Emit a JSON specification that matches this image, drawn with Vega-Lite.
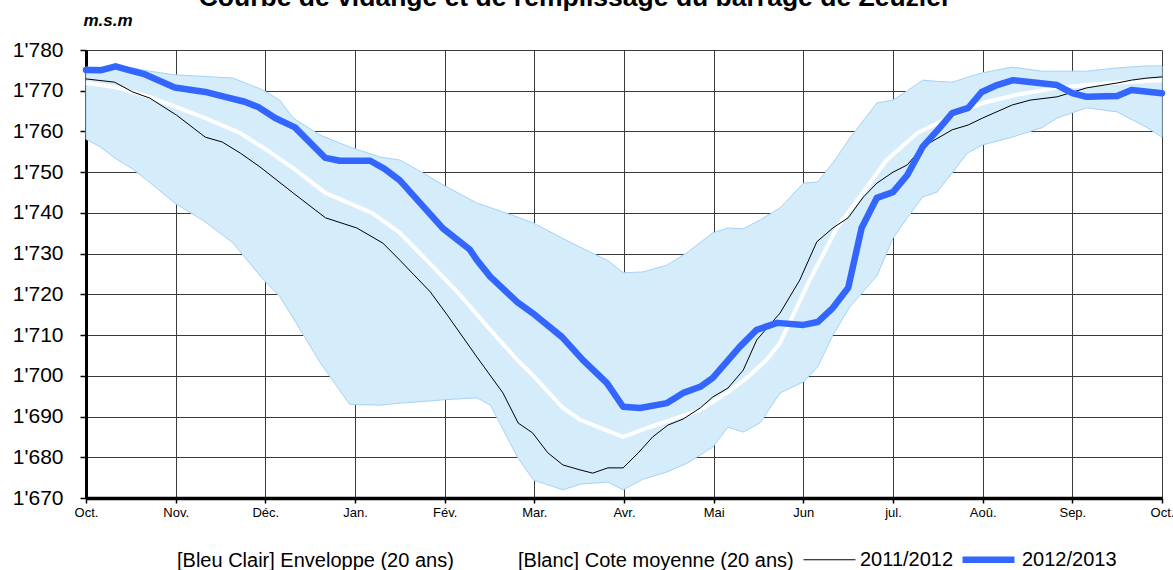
{
  "$schema": "https://vega.github.io/schema/vega-lite/v6.json",
  "width": 1076,
  "height": 448,
  "autosize": "none",
  "padding": {"left": 86, "top": 50, "right": 11, "bottom": 72},
  "background": "white",
  "config": {"font": "Liberation Sans", "view": {"stroke": null}},
  "title": {
    "text": "Courbe de vidange et de remplissage du barrage de Zeuzier",
    "fontSize": 26.5, "fontWeight": "bold", "font": "Liberation Sans", "color": "black",
    "anchor": "middle", "frame": "group", "dx": -49, "dy": 26, "offset": 5, "baseline": "alphabetic"
  },
  "datasets": {
    "env": [
      {"m": 0, "lo": 1758.1, "hi": 1775.8}, {"m": 0.16, "lo": 1756.2, "hi": 1775.8},
      {"m": 0.32, "lo": 1753.5, "hi": 1775.7}, {"m": 0.52, "lo": 1750.8, "hi": 1775.6},
      {"m": 0.71, "lo": 1747.5, "hi": 1774.8}, {"m": 0.99, "lo": 1742.4, "hi": 1773.9},
      {"m": 1.33, "lo": 1737.8, "hi": 1773.5}, {"m": 1.64, "lo": 1732.6, "hi": 1773.1},
      {"m": 1.97, "lo": 1723.8, "hi": 1770.2}, {"m": 2.16, "lo": 1719.5, "hi": 1767.7},
      {"m": 2.31, "lo": 1714.2, "hi": 1763.3}, {"m": 2.61, "lo": 1703.3, "hi": 1759.1},
      {"m": 2.94, "lo": 1693.0, "hi": 1756.2}, {"m": 3.28, "lo": 1692.8, "hi": 1753.7},
      {"m": 3.50, "lo": 1693.3, "hi": 1753.0}, {"m": 3.76, "lo": 1693.7, "hi": 1749.8},
      {"m": 3.98, "lo": 1694.1, "hi": 1746.9}, {"m": 4.36, "lo": 1694.6, "hi": 1742.4},
      {"m": 4.51, "lo": 1692.8, "hi": 1741.3}, {"m": 4.81, "lo": 1680.1, "hi": 1739.0},
      {"m": 4.99, "lo": 1674.4, "hi": 1737.5}, {"m": 5.32, "lo": 1672.0, "hi": 1733.7},
      {"m": 5.51, "lo": 1673.4, "hi": 1731.6}, {"m": 5.82, "lo": 1673.9, "hi": 1728.3},
      {"m": 5.99, "lo": 1672.0, "hi": 1725.3}, {"m": 6.21, "lo": 1674.6, "hi": 1725.5},
      {"m": 6.48, "lo": 1676.4, "hi": 1727.2}, {"m": 6.70, "lo": 1678.5, "hi": 1730.2},
      {"m": 6.99, "lo": 1682.5, "hi": 1735.1}, {"m": 7.16, "lo": 1687.4, "hi": 1736.3},
      {"m": 7.33, "lo": 1686.2, "hi": 1736.1}, {"m": 7.52, "lo": 1688.5, "hi": 1738.3},
      {"m": 7.74, "lo": 1695.8, "hi": 1741.2}, {"m": 8.00, "lo": 1698.5, "hi": 1747.3},
      {"m": 8.16, "lo": 1702.2, "hi": 1747.6}, {"m": 8.33, "lo": 1710.0, "hi": 1752.3},
      {"m": 8.52, "lo": 1717.0, "hi": 1758.4}, {"m": 8.82, "lo": 1724.5, "hi": 1767.0},
      {"m": 9.00, "lo": 1733.8, "hi": 1767.7}, {"m": 9.16, "lo": 1738.8, "hi": 1770.0},
      {"m": 9.33, "lo": 1743.9, "hi": 1772.6}, {"m": 9.49, "lo": 1745.1, "hi": 1772.3},
      {"m": 9.66, "lo": 1749.8, "hi": 1772.1}, {"m": 9.83, "lo": 1754.7, "hi": 1773.3},
      {"m": 10.00, "lo": 1756.7, "hi": 1774.4}, {"m": 10.33, "lo": 1758.6, "hi": 1775.8},
      {"m": 10.66, "lo": 1760.9, "hi": 1774.8}, {"m": 10.83, "lo": 1763.3, "hi": 1774.8},
      {"m": 11.16, "lo": 1765.8, "hi": 1774.8}, {"m": 11.50, "lo": 1764.8, "hi": 1775.6},
      {"m": 11.83, "lo": 1761.0, "hi": 1776.1}, {"m": 12.00, "lo": 1758.6, "hi": 1776.1}
    ],
    "mean": [
      {"m": 0, "v": 1771.9}, {"m": 0.32, "v": 1770.9}, {"m": 0.71, "v": 1768.5},
      {"m": 1.01, "v": 1766.0}, {"m": 1.33, "v": 1763.3}, {"m": 1.72, "v": 1759.6},
      {"m": 2.02, "v": 1755.4}, {"m": 2.31, "v": 1751.0}, {"m": 2.67, "v": 1744.9},
      {"m": 3.19, "v": 1740.0}, {"m": 3.50, "v": 1735.1}, {"m": 3.80, "v": 1728.4},
      {"m": 4.14, "v": 1720.6}, {"m": 4.58, "v": 1709.5}, {"m": 4.84, "v": 1703.2},
      {"m": 4.98, "v": 1700.2}, {"m": 5.32, "v": 1692.1}, {"m": 5.51, "v": 1689.2},
      {"m": 5.99, "v": 1685.0}, {"m": 6.26, "v": 1687.2}, {"m": 6.62, "v": 1689.9},
      {"m": 6.85, "v": 1691.6}, {"m": 7.15, "v": 1695.8}, {"m": 7.37, "v": 1699.5},
      {"m": 7.59, "v": 1703.9}, {"m": 7.74, "v": 1708.1}, {"m": 8.07, "v": 1723.5},
      {"m": 8.38, "v": 1736.5}, {"m": 8.71, "v": 1746.4}, {"m": 8.93, "v": 1753.0},
      {"m": 9.27, "v": 1759.6}, {"m": 9.64, "v": 1763.6}, {"m": 10.00, "v": 1767.0},
      {"m": 10.38, "v": 1769.0}, {"m": 10.83, "v": 1770.7}, {"m": 11.16, "v": 1771.4},
      {"m": 11.56, "v": 1772.1}, {"m": 12.00, "v": 1772.6}
    ],
    "yrs": [
      {"s": "2011/2012", "m": 0, "v": 1772.9}, {"s": "2011/2012", "m": 0.32, "v": 1772.1},
      {"s": "2011/2012", "m": 0.52, "v": 1769.7}, {"s": "2011/2012", "m": 0.71, "v": 1768.2},
      {"s": "2011/2012", "m": 1.01, "v": 1764.0}, {"s": "2011/2012", "m": 1.33, "v": 1758.6},
      {"s": "2011/2012", "m": 1.52, "v": 1757.4}, {"s": "2011/2012", "m": 1.72, "v": 1754.7},
      {"s": "2011/2012", "m": 1.94, "v": 1751.3}, {"s": "2011/2012", "m": 2.31, "v": 1744.9},
      {"s": "2011/2012", "m": 2.67, "v": 1738.8}, {"s": "2011/2012", "m": 3.02, "v": 1736.3},
      {"s": "2011/2012", "m": 3.31, "v": 1732.6}, {"s": "2011/2012", "m": 3.50, "v": 1728.4},
      {"s": "2011/2012", "m": 3.84, "v": 1720.6}, {"s": "2011/2012", "m": 4.03, "v": 1714.9},
      {"s": "2011/2012", "m": 4.36, "v": 1704.6}, {"s": "2011/2012", "m": 4.65, "v": 1695.8},
      {"s": "2011/2012", "m": 4.82, "v": 1688.4}, {"s": "2011/2012", "m": 4.98, "v": 1686.0},
      {"s": "2011/2012", "m": 5.15, "v": 1681.1}, {"s": "2011/2012", "m": 5.32, "v": 1678.1},
      {"s": "2011/2012", "m": 5.51, "v": 1676.9}, {"s": "2011/2012", "m": 5.65, "v": 1676.1},
      {"s": "2011/2012", "m": 5.82, "v": 1677.4}, {"s": "2011/2012", "m": 5.99, "v": 1677.4},
      {"s": "2011/2012", "m": 6.16, "v": 1681.1}, {"s": "2011/2012", "m": 6.32, "v": 1685.0},
      {"s": "2011/2012", "m": 6.49, "v": 1687.9}, {"s": "2011/2012", "m": 6.66, "v": 1689.4},
      {"s": "2011/2012", "m": 6.85, "v": 1692.1}, {"s": "2011/2012", "m": 6.99, "v": 1694.8},
      {"s": "2011/2012", "m": 7.16, "v": 1697.0}, {"s": "2011/2012", "m": 7.33, "v": 1701.4},
      {"s": "2011/2012", "m": 7.48, "v": 1708.8}, {"s": "2011/2012", "m": 7.74, "v": 1715.4},
      {"s": "2011/2012", "m": 7.96, "v": 1723.5}, {"s": "2011/2012", "m": 8.15, "v": 1732.9},
      {"s": "2011/2012", "m": 8.33, "v": 1736.3}, {"s": "2011/2012", "m": 8.50, "v": 1738.8},
      {"s": "2011/2012", "m": 8.67, "v": 1743.9}, {"s": "2011/2012", "m": 8.82, "v": 1747.3},
      {"s": "2011/2012", "m": 9.00, "v": 1750.0}, {"s": "2011/2012", "m": 9.16, "v": 1751.8},
      {"s": "2011/2012", "m": 9.33, "v": 1756.2}, {"s": "2011/2012", "m": 9.66, "v": 1760.4},
      {"s": "2011/2012", "m": 9.84, "v": 1761.6}, {"s": "2011/2012", "m": 10.00, "v": 1763.3},
      {"s": "2011/2012", "m": 10.33, "v": 1766.5}, {"s": "2011/2012", "m": 10.53, "v": 1767.7},
      {"s": "2011/2012", "m": 10.83, "v": 1768.5}, {"s": "2011/2012", "m": 11.16, "v": 1770.7},
      {"s": "2011/2012", "m": 11.50, "v": 1771.9}, {"s": "2011/2012", "m": 11.66, "v": 1772.6},
      {"s": "2011/2012", "m": 11.83, "v": 1773.1}, {"s": "2011/2012", "m": 12.00, "v": 1773.4},
      {"s": "2012/2013", "m": 0, "v": 1775.1}, {"s": "2012/2013", "m": 0.16, "v": 1775.0},
      {"s": "2012/2013", "m": 0.33, "v": 1776.0}, {"s": "2012/2013", "m": 0.49, "v": 1775.0},
      {"s": "2012/2013", "m": 0.66, "v": 1774.0}, {"s": "2012/2013", "m": 0.99, "v": 1770.8},
      {"s": "2012/2013", "m": 1.33, "v": 1769.7}, {"s": "2012/2013", "m": 1.55, "v": 1768.5},
      {"s": "2012/2013", "m": 1.77, "v": 1767.3}, {"s": "2012/2013", "m": 1.92, "v": 1766.0},
      {"s": "2012/2013", "m": 2.11, "v": 1763.3}, {"s": "2012/2013", "m": 2.33, "v": 1761.0},
      {"s": "2012/2013", "m": 2.67, "v": 1753.5}, {"s": "2012/2013", "m": 2.83, "v": 1752.8},
      {"s": "2012/2013", "m": 3.17, "v": 1752.8}, {"s": "2012/2013", "m": 3.33, "v": 1750.8},
      {"s": "2012/2013", "m": 3.50, "v": 1748.0}, {"s": "2012/2013", "m": 3.98, "v": 1736.2},
      {"s": "2012/2013", "m": 4.28, "v": 1731.0}, {"s": "2012/2013", "m": 4.36, "v": 1728.4},
      {"s": "2012/2013", "m": 4.51, "v": 1724.3}, {"s": "2012/2013", "m": 4.81, "v": 1718.1},
      {"s": "2012/2013", "m": 4.98, "v": 1715.4}, {"s": "2012/2013", "m": 5.31, "v": 1709.5},
      {"s": "2012/2013", "m": 5.54, "v": 1703.9}, {"s": "2012/2013", "m": 5.81, "v": 1698.2},
      {"s": "2012/2013", "m": 5.99, "v": 1692.4}, {"s": "2012/2013", "m": 6.18, "v": 1692.1},
      {"s": "2012/2013", "m": 6.48, "v": 1693.3}, {"s": "2012/2013", "m": 6.66, "v": 1695.8},
      {"s": "2012/2013", "m": 6.85, "v": 1697.3}, {"s": "2012/2013", "m": 6.99, "v": 1699.5},
      {"s": "2012/2013", "m": 7.29, "v": 1707.1}, {"s": "2012/2013", "m": 7.48, "v": 1711.3},
      {"s": "2012/2013", "m": 7.71, "v": 1713.0}, {"s": "2012/2013", "m": 8.00, "v": 1712.5},
      {"s": "2012/2013", "m": 8.16, "v": 1713.2}, {"s": "2012/2013", "m": 8.33, "v": 1716.7},
      {"s": "2012/2013", "m": 8.50, "v": 1721.6}, {"s": "2012/2013", "m": 8.65, "v": 1736.3},
      {"s": "2012/2013", "m": 8.82, "v": 1743.7}, {"s": "2012/2013", "m": 9.00, "v": 1745.1},
      {"s": "2012/2013", "m": 9.16, "v": 1749.3}, {"s": "2012/2013", "m": 9.33, "v": 1756.2},
      {"s": "2012/2013", "m": 9.52, "v": 1760.9}, {"s": "2012/2013", "m": 9.66, "v": 1764.5},
      {"s": "2012/2013", "m": 9.84, "v": 1765.8}, {"s": "2012/2013", "m": 9.99, "v": 1769.7},
      {"s": "2012/2013", "m": 10.16, "v": 1771.4}, {"s": "2012/2013", "m": 10.34, "v": 1772.6},
      {"s": "2012/2013", "m": 10.83, "v": 1771.4}, {"s": "2012/2013", "m": 11.00, "v": 1769.4},
      {"s": "2012/2013", "m": 11.16, "v": 1768.5}, {"s": "2012/2013", "m": 11.50, "v": 1768.7},
      {"s": "2012/2013", "m": 11.66, "v": 1770.2}, {"s": "2012/2013", "m": 12.00, "v": 1769.4}
    ]
  },
  "layer": [
    {
      "data": {"name": "env"},
      "mark": {"type": "area", "stroke": "#A6D2F4", "strokeWidth": 1},
      "encoding": {
        "x": {
          "field": "m", "type": "quantitative",
          "scale": {"domain": [0, 12], "nice": false, "zero": false},
          "axis": {
            "values": [0, 1, 2, 3, 4, 5, 6, 7, 8, 9, 10, 11, 12],
            "labelExpr": "['Oct.','Nov.','Déc.','Jan.','Fév.','Mar.','Avr.','Mai','Jun','jul.','Aoû.','Sep.','Oct.'][datum.value]",
            "title": null, "labelFontSize": 13, "labelColor": "black", "labelPadding": 3,
            "labelFlush": false, "labelOverlap": false,
            "tickSize": 5, "tickColor": "black", "tickWidth": 1.5,
            "domainColor": "black", "domainWidth": 3.5,
            "grid": true, "gridColor": "#3a3a3a", "gridWidth": 1
          }
        },
        "y": {
          "field": "lo", "type": "quantitative",
          "scale": {"domain": [1670, 1780], "nice": false, "zero": false},
          "axis": {
            "values": [1670, 1680, 1690, 1700, 1710, 1720, 1730, 1740, 1750, 1760, 1770, 1780],
            "labelExpr": "replace(format(datum.value, ','), ',', \"'\")",
            "labelFontSize": 21, "labelColor": "black", "labelPadding": 17,
            "tickSize": 6, "tickColor": "black", "tickWidth": 1.5,
            "domainColor": "black", "domainWidth": 3,
            "grid": true, "gridColor": "#3a3a3a", "gridWidth": 1,
            "title": "m.s.m", "titleFontSize": 17, "titleFontStyle": "italic", "titleFontWeight": "bold",
            "titleColor": "black", "titleAngle": 0, "titleX": -3, "titleY": -25,
            "titleAlign": "left", "titleBaseline": "alphabetic"
          }
        },
        "y2": {"field": "hi"},
        "fill": {
          "datum": "[Bleu Clair] Enveloppe (20 ans)", "type": "nominal",
          "scale": {"domain": ["[Bleu Clair] Enveloppe (20 ans)", "[Blanc] Cote moyenne (20 ans)"], "range": ["#D5ECFB", "#FFFFFF"]},
          "legend": {
            "title": null, "orient": "none", "legendX": 71, "legendY": 501, "direction": "horizontal",
            "labelFontSize": 20, "labelColor": "black", "labelOffset": 0, "labelLimit": 0,
            "symbolSize": 1, "columnPadding": 44,
            "symbolOpacity": 0, "symbolStrokeWidth": 0
          }
        }
      }
    },
    {
      "data": {"name": "mean"},
      "mark": {"type": "line", "color": "white", "strokeWidth": 4},
      "encoding": {
        "x": {"field": "m", "type": "quantitative"},
        "y": {"field": "v", "type": "quantitative"}
      }
    },
    {
      "data": {"name": "yrs"},
      "mark": {"type": "line", "strokeJoin": "round", "strokeCap": "round"},
      "encoding": {
        "x": {"field": "m", "type": "quantitative"},
        "y": {"field": "v", "type": "quantitative"},
        "stroke": {
          "field": "s", "type": "nominal",
          "scale": {"domain": ["2011/2012", "2012/2013"], "range": ["#000000", "#3366FF"]},
          "legend": {
            "title": null, "orient": "none", "legendX": 717, "legendY": 480, "direction": "horizontal",
            "labelFontSize": 20, "labelColor": "black", "labelOffset": 4, "labelLimit": 0,
            "symbolType": "stroke", "symbolSize": 2700, "columnPadding": -5
          }
        },
        "strokeWidth": {
          "field": "s", "type": "nominal",
          "scale": {"domain": ["2011/2012", "2012/2013"], "range": [1, 6.5]},
          "legend": {
            "title": null, "orient": "none", "legendX": 717, "legendY": 480, "direction": "horizontal",
            "labelFontSize": 20, "labelColor": "black", "labelOffset": 4, "labelLimit": 0,
            "symbolType": "stroke", "symbolSize": 2700, "columnPadding": -5
          }
        }
      }
    }
  ]
}
